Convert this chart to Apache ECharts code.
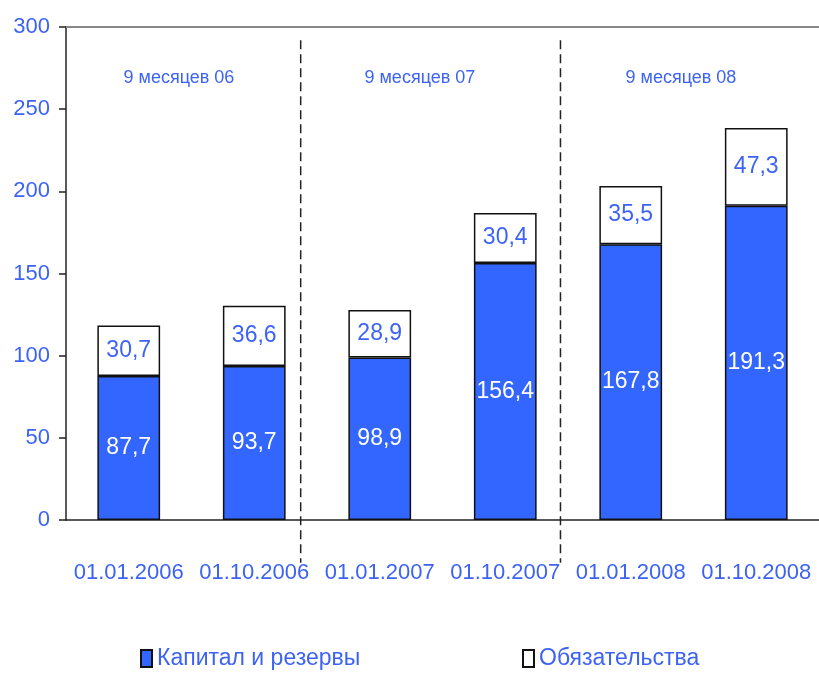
<!DOCTYPE html>
<html>
<head>
<meta charset="utf-8">
<script src="https://cdn.jsdelivr.net/npm/echarts@6/dist/echarts.min.js"></script>
<style>
  html, body { margin: 0; padding: 0; background: #fff; }
  #chart { width: 819px; height: 675px; }
</style>
</head>
<body>
<div id="chart"></div>
<script>
var categories = ["01.01.2006", "01.10.2006", "01.01.2007", "01.10.2007", "01.01.2008", "01.10.2008"]
var capital = [87.7, 93.7, 98.9, 156.4, 167.8, 191.3]
var liabilities = [30.7, 36.6, 28.9, 30.4, 35.5, 47.3]
var seriesNames = ["Капитал и резервы", "Обязательства"]
var groupLabels = ["9 месяцев 06", "9 месяцев 07", "9 месяцев 08"]
// group label centres and dividers, in category units from the left edge
var groupPos = [0.9, 2.82, 4.9]
var dividerPos = [1.87, 3.94]

var blue = "#3366ff"
var textBlue = "#3d63f5"
var font = "'Liberation Sans', Arial, sans-serif"

function comma(p) {
  return String(p.value.toFixed(1)).replace(".", ",")
}

var myChart = echarts.init(document.getElementById("chart"))
var option = {
  backgroundColor: "#fff",
  animation: false,
  grid: { left: 66, top: 27, bottom: 155, right: -12 },
  xAxis: [
    {
      type: "category",
      data: categories,
      axisLine: { lineStyle: { color: "#222", width: 1.5 } },
      axisTick: { length: 11, lineStyle: { color: "#222", width: 1.5 } },
      axisLabel: { color: textBlue, fontSize: 22, fontFamily: font, margin: 42, interval: 0 }
    },
    {
      // top border line of plot area
      type: "category",
      position: "top",
      data: categories,
      axisLine: { lineStyle: { color: "#888", width: 2 } },
      axisTick: { show: false },
      axisLabel: { show: false }
    },
    {
      // helper axis in category units for annotations
      type: "value",
      min: 0,
      max: 6,
      show: false
    }
  ],
  yAxis: {
    type: "value",
    min: 0,
    max: 300,
    interval: 50,
    axisLine: { show: true, lineStyle: { color: "#222", width: 1.5 } },
    axisTick: { show: true, length: 7, lineStyle: { color: "#222", width: 1.5 } },
    splitLine: { show: false },
    axisLabel: { color: textBlue, fontSize: 22, fontFamily: font, margin: 16 }
  },
  legend: [
    {
      data: [seriesNames[0]],
      left: 135,
      top: 642,
      itemWidth: 11,
      itemHeight: 17,
      itemGap: 8,
      icon: "rect",
      textStyle: { color: textBlue, fontSize: 23, fontFamily: font }
    },
    {
      data: [seriesNames[1]],
      left: 517,
      top: 642,
      itemWidth: 11,
      itemHeight: 17,
      icon: "rect",
      textStyle: { color: textBlue, fontSize: 23, fontFamily: font }
    }
  ],
  series: [
    {
      name: seriesNames[0],
      type: "bar",
      stack: "a",
      barWidth: "50%",
      data: capital,
      itemStyle: { color: blue, borderColor: "#111", borderWidth: 1.5 },
      label: {
        show: true,
        position: "inside",
        color: "#fff",
        fontSize: 23,
        fontFamily: font,
        formatter: comma
      }
    },
    {
      name: seriesNames[1],
      type: "bar",
      stack: "a",
      barWidth: "50%",
      data: liabilities,
      itemStyle: { color: "#fff", borderColor: "#111", borderWidth: 1.5 },
      label: {
        show: true,
        position: "inside",
        color: textBlue,
        fontSize: 23,
        fontFamily: font,
        formatter: comma
      }
    }
  ]
}
myChart.setOption(option)

// annotations: period labels and dashed dividers
var graphics = []
var yTop = myChart.convertToPixel({ yAxisIndex: 0 }, 292)
var yBottom = myChart.convertToPixel({ yAxisIndex: 0 }, -26)
var yLabel = myChart.convertToPixel({ yAxisIndex: 0 }, 269)
dividerPos.forEach(function (d) {
  var x = myChart.convertToPixel({ xAxisIndex: 2 }, d)
  graphics.push({
    type: "line",
    shape: { x1: x, y1: yTop, x2: x, y2: yBottom },
    style: { stroke: "#222", lineWidth: 1.5, lineDash: [9, 5] },
    z: 10
  })
})
groupLabels.forEach(function (t, i) {
  var x = myChart.convertToPixel({ xAxisIndex: 2 }, groupPos[i])
  graphics.push({
    type: "text",
    x: x,
    y: yLabel,
    style: {
      text: t,
      fill: textBlue,
      font: "18px " + font,
      textAlign: "center",
      textVerticalAlign: "middle"
    },
    z: 10
  })
})
myChart.setOption({ graphic: graphics })
</script>
</body>
</html>
